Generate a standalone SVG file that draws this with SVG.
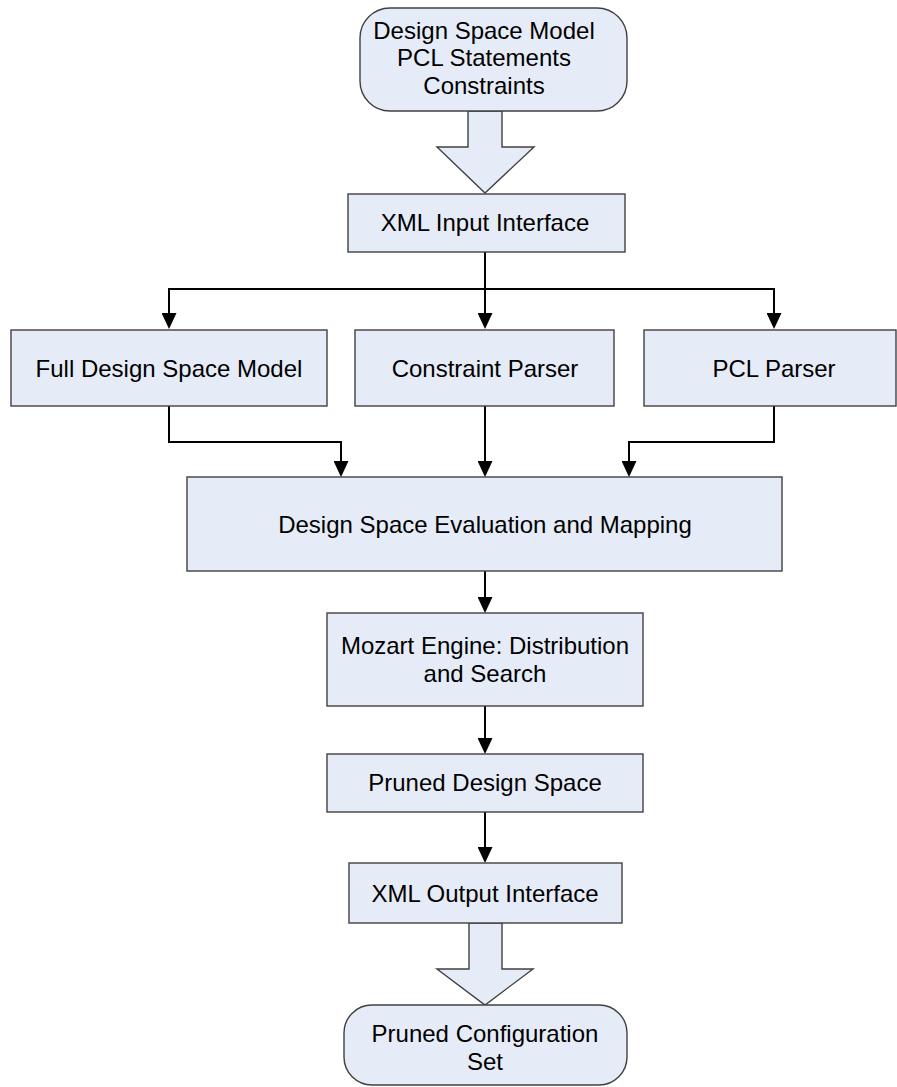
<svg xmlns="http://www.w3.org/2000/svg" width="897" height="1087" viewBox="0 0 897 1087">
<style>
.box{fill:#E6ECF7;stroke:#404040;stroke-width:1.4}
.t{font-family:"Liberation Sans",Arial,sans-serif;font-size:24px;fill:#000;text-anchor:middle}
.c{fill:none;stroke:#000;stroke-width:2}
</style>
<defs>
<marker id="ah" viewBox="0 0 16 15" refX="8" refY="7.5" markerWidth="16" markerHeight="15" markerUnits="userSpaceOnUse" orient="auto">
<path d="M0,0 L16,7.5 L0,15 z" fill="#000"/>
</marker>
</defs>
<rect width="897" height="1087" fill="#fff"/>
<g id="connectors">
<polygon class="box" points="468,111 502,111 502,147 534,147 485,193 437,147 468,147"/>
<path class="c" d="M485,251 V321" marker-end="url(#ah)"/>
<path class="c" d="M485,289 H169 V321" marker-end="url(#ah)"/>
<path class="c" d="M485,289 H774 V321" marker-end="url(#ah)"/>
<path class="c" d="M169,406 V442 H341 V469" marker-end="url(#ah)"/>
<path class="c" d="M485,406 V469" marker-end="url(#ah)"/>
<path class="c" d="M774,406 V442 H629 V469" marker-end="url(#ah)"/>
<path class="c" d="M485,571 V605" marker-end="url(#ah)"/>
<path class="c" d="M485,706 V746" marker-end="url(#ah)"/>
<path class="c" d="M485,812 V855" marker-end="url(#ah)"/>
<polygon class="box" points="469,923 502,923 502,969 533,969 485,1005 437,969 469,969"/>
</g>
<g id="input">
<rect class="box" x="360" y="8" width="267" height="103" rx="30" ry="30"/>
<text class="t" x="484" y="39">Design Space Model</text>
<text class="t" x="484" y="66">PCL Statements</text>
<text class="t" x="484" y="94">Constraints</text>
</g>
<g id="xml-input">
<rect class="box" x="348" y="194" width="277" height="58"/>
<text class="t" x="485" y="231">XML Input Interface</text>
</g>
<g id="full-model">
<rect class="box" x="11" y="330" width="316" height="76"/>
<text class="t" x="169" y="377">Full Design Space Model</text>
</g>
<g id="constraint-parser">
<rect class="box" x="355" y="330" width="259" height="76"/>
<text class="t" x="485" y="377">Constraint Parser</text>
</g>
<g id="pcl-parser">
<rect class="box" x="644" y="330" width="252" height="76"/>
<text class="t" x="774" y="377">PCL Parser</text>
</g>
<g id="evaluation">
<rect class="box" x="187" y="477" width="595" height="94"/>
<text class="t" x="485" y="533">Design Space Evaluation and Mapping</text>
</g>
<g id="mozart">
<rect class="box" x="327" y="613" width="316" height="93"/>
<text class="t" x="485" y="654">Mozart Engine: Distribution</text>
<text class="t" x="485" y="682">and Search</text>
</g>
<g id="pruned">
<rect class="box" x="327" y="754" width="316" height="58"/>
<text class="t" x="485" y="791">Pruned Design Space</text>
</g>
<g id="xml-output">
<rect class="box" x="349" y="863" width="273" height="60"/>
<text class="t" x="485" y="902">XML Output Interface</text>
</g>
<g id="output">
<rect class="box" x="344" y="1005" width="283" height="80" rx="28" ry="28"/>
<text class="t" x="485" y="1042">Pruned Configuration</text>
<text class="t" x="485" y="1070">Set</text>
</g>
</svg>
